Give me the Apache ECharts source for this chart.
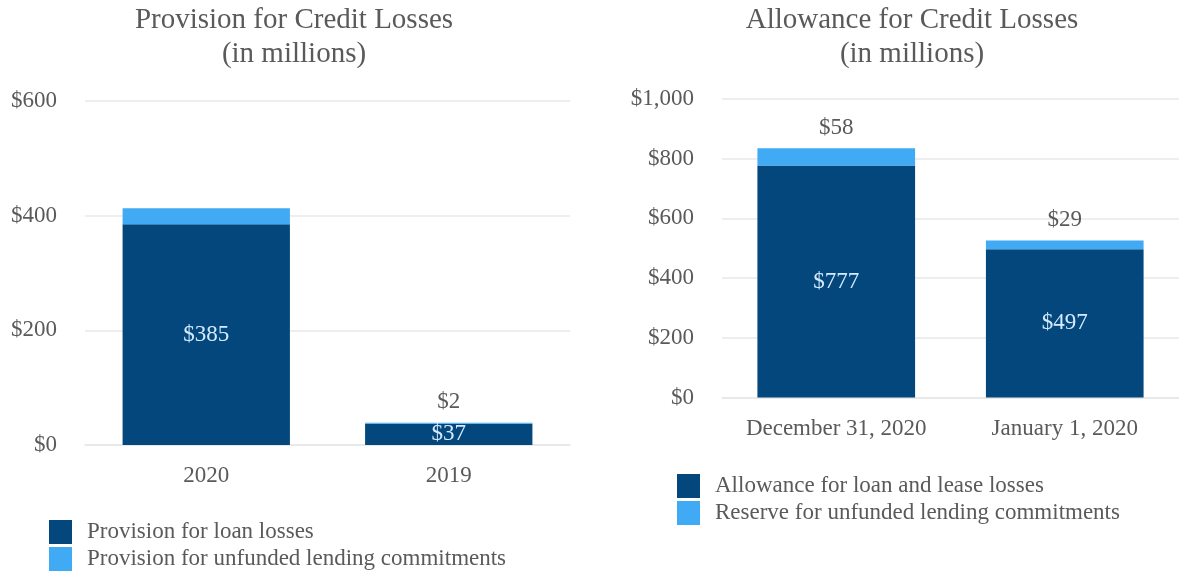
<!DOCTYPE html>
<html>
<head>
<meta charset="utf-8">
<script src="https://cdn.jsdelivr.net/npm/echarts@6/dist/echarts.min.js"></script>
<style>
  html, body { margin: 0; padding: 0; background: #ffffff; }
  #chart { width: 1179px; height: 575px; }
</style>
</head>
<body>
<div id="chart"></div>
<script>
// Provision for credit losses, by year (in millions)
const provisionYears = ['2020', '2019'];
const provisionLoanLosses = [385, 37];
const provisionUnfunded = [28, 2];
const provisionUnfundedShowLabel = [false, true];
const provisionTicks = [0, 200, 400, 600];

// Allowance for credit losses, by date (in millions)
const allowanceDates = ['December 31, 2020', 'January 1, 2020'];
const allowanceLoanLease = [777, 497];
const allowanceUnfunded = [58, 29];
const allowanceUnfundedShowLabel = [true, true];
const allowanceTicks = [0, 200, 400, 600, 800, 1000];

const DARK = '#03477c';
const LIGHT = '#41aaf4';
const GREY_TEXT = '#5a5a5a';
const GRID_LINE = '#e8e8e8';
const FONT = "'Liberation Serif', 'Times New Roman', serif";

const money = v => '$' + Number(v).toLocaleString('en-US');

function valueAxis(gridIndex, ticks) {
  const step = ticks[1] - ticks[0];
  return {
    type: 'value', gridIndex,
    min: ticks[0], max: ticks[ticks.length - 1], interval: step,
    axisLine: { show: false }, axisTick: { show: false },
    splitLine: { lineStyle: { color: GRID_LINE, width: 1.5 } },
    axisLabel: { formatter: money, color: GREY_TEXT, fontFamily: FONT, fontSize: 23, margin: 28 }
  };
}

function categoryAxis(gridIndex, cats, margin) {
  return {
    type: 'category', gridIndex, data: cats,
    axisLine: { lineStyle: { color: GRID_LINE, width: 1.5 } },
    axisTick: { show: false },
    axisLabel: {
      interval: 0, hideOverlap: false,
      color: GREY_TEXT, fontFamily: FONT, fontSize: 23, margin
    }
  };
}

function baseSeries(name, idx, stack, values, gap) {
  return {
    name, type: 'bar', stack, xAxisIndex: idx, yAxisIndex: idx,
    barCategoryGap: gap, itemStyle: { color: DARK },
    label: {
      show: true, position: 'inside', formatter: p => money(p.value),
      color: '#d6eaff', fontFamily: FONT, fontSize: 23
    },
    data: values
  };
}

function topSeries(name, idx, stack, values, showFlags, gap) {
  return {
    name, type: 'bar', stack, xAxisIndex: idx, yAxisIndex: idx,
    barCategoryGap: gap, itemStyle: { color: LIGHT },
    label: {
      position: 'top', distance: 9, formatter: p => money(p.value),
      color: GREY_TEXT, fontFamily: FONT, fontSize: 23
    },
    data: values.map((v, i) => ({ value: v, label: { show: showFlags[i] } }))
  };
}

const titleStyle = { color: GREY_TEXT, fontFamily: FONT, fontSize: 29, fontWeight: 'normal', lineHeight: 34 };
const legendText = { color: GREY_TEXT, fontFamily: FONT, fontSize: 23, padding: [0, 0, 0, 10] };

const option = {
  animation: false,
  backgroundColor: '#ffffff',
  title: [
    { text: 'Provision for Credit Losses\n(in millions)', left: 289, top: -2, textAlign: 'center', textStyle: titleStyle },
    { text: 'Allowance for Credit Losses\n(in millions)', left: 907, top: -2, textAlign: 'center', textStyle: titleStyle }
  ],
  legend: [
    {
      orient: 'vertical', left: 49, top: 520, padding: 0, icon: 'rect',
      itemWidth: 23, itemHeight: 24, itemGap: 3,
      textStyle: legendText,
      data: ['Provision for loan losses', 'Provision for unfunded lending commitments']
    },
    {
      orient: 'vertical', left: 677, top: 474, padding: 0, icon: 'rect',
      itemWidth: 23, itemHeight: 24, itemGap: 3,
      textStyle: legendText,
      data: ['Allowance for loan and lease losses', 'Reserve for unfunded lending commitments']
    }
  ],
  grid: [
    { left: 85, right: 609, top: 101, bottom: 130 },
    { left: 722, right: -9, top: 99, bottom: 177.5 }
  ],
  xAxis: [
    categoryAxis(0, provisionYears, 19),
    categoryAxis(1, allowanceDates, 20)
  ],
  yAxis: [
    valueAxis(0, provisionTicks),
    valueAxis(1, allowanceTicks)
  ],
  series: [
    baseSeries('Provision for loan losses', 0, 'prov', provisionLoanLosses, '31%'),
    topSeries('Provision for unfunded lending commitments', 0, 'prov', provisionUnfunded, provisionUnfundedShowLabel, '31%'),
    baseSeries('Allowance for loan and lease losses', 1, 'allow', allowanceLoanLease, '31%'),
    topSeries('Reserve for unfunded lending commitments', 1, 'allow', allowanceUnfunded, allowanceUnfundedShowLabel, '31%')
  ]
};

const chart = echarts.init(document.getElementById('chart'), null, { renderer: 'canvas' });
chart.setOption(option);
</script>
</body>
</html>
